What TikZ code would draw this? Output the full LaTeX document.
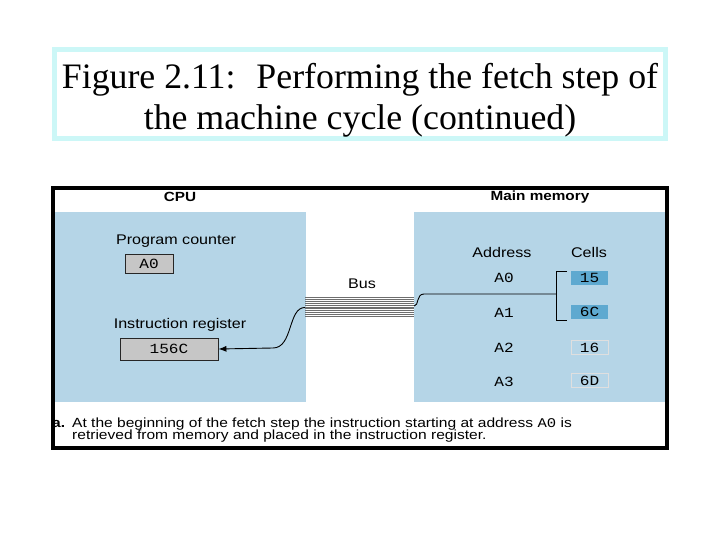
\documentclass[tikz,border=0pt]{standalone}
\usepackage{fontspec}
\setmainfont{Liberation Serif}
\setsansfont{Liberation Sans}
\setmonofont{Liberation Mono}
\usetikzlibrary{arrows.meta}
\definecolor{panel}{HTML}{B5D5E7}
\definecolor{cellhi}{HTML}{5EA9D0}
\definecolor{regfill}{HTML}{C6C6C6}
\definecolor{titlebd}{HTML}{CCF7F7}
\definecolor{busgray}{HTML}{6E6E6E}
\newcommand{\wtxt}[1]{\scalebox{1.15}[1]{#1}}
\newcommand{\ctxt}[1]{\scalebox{1.17}[1]{#1}}
\begin{document}
\begin{tikzpicture}[x=1pt,y=-1pt,
  lbl/.style={font=\sffamily\fontsize{14}{15}\selectfont, inner sep=0},
  head/.style={font=\sffamily\bfseries\fontsize{13.3}{14}\selectfont, inner sep=0},
  mono/.style={font=\ttfamily\fontsize{14}{15}\selectfont, inner sep=0},
  reg/.style={draw=black!85, fill=regfill, line width=0.9pt, inner sep=0, mono},
  cellbox/.style={inner sep=0, mono, minimum width=37pt, minimum height=14pt},
  capt/.style={font=\sffamily\fontsize{13.3}{13}\selectfont, inner sep=0, anchor=base west},
]
\useasboundingbox (0,0) rectangle (720,540);
% title
\draw[titlebd, line width=5pt] (54.5,49.5) rectangle (665.5,138.5);
\node (title) [align=center, inner sep=0, font=\fontsize{35.8}{41}\selectfont, anchor=base] at (360,130)
  {Figure 2.11:~ Performing the fetch step of\\the machine cycle (continued)};
% diagram frame
\fill[white] (53,188) rectangle (667,448);
\fill[panel] (55,212) rectangle (306,402);
\fill[panel] (414,212) rectangle (665,402);
\node (cpu) [head] at (180,197) {\wtxt{CPU}};
\node (mem) [head] at (540,197) {\wtxt{Main memory}};
% CPU contents
\node (pclbl) [lbl] at (176,241) {\wtxt{Program counter}};
\node (pc) [reg, minimum width=48pt, minimum height=19pt] at (149,264) {\wtxt{A0}};
\node (irlbl) [lbl] at (180,325) {\wtxt{Instruction register}};
\node (ir) [reg, minimum width=98pt, minimum height=22pt] at (169,349) {\wtxt{156C}};
% bus
\node (buslbl) [lbl] at (362,284) {\wtxt{Bus}};
\foreach \k in {0,...,9} {
  \draw[busgray, line width=1.15pt] (305,297.5+2.1*\k) -- (414,297.5+2.1*\k);
}
\node (bus) [minimum width=109pt, minimum height=21pt, inner sep=0] at (359.5,307) {};
% memory contents
\node (addr) [lbl] at (502,252) {\wtxt{Address}};
\node (cells) [lbl] at (589,252) {\wtxt{Cells}};
\node (a0) [mono] at (504,278) {\wtxt{A0}};
\node (a1) [mono] at (504,313) {\wtxt{A1}};
\node (a2) [mono] at (504,348) {\wtxt{A2}};
\node (a3) [mono] at (504,382) {\wtxt{A3}};
\node (c0) [cellbox, fill=cellhi] at (589.5,278) {\wtxt{15}};
\node (c1) [cellbox, fill=cellhi] at (589.5,312) {\wtxt{6C}};
\node (c2) [cellbox, draw=white!75!gray, line width=0.8pt] at (589.5,347.5) {\wtxt{16}};
\node (c3) [cellbox, draw=white!75!gray, line width=0.8pt] at (589.5,380.5) {\wtxt{6D}};
\coordinate (brtop) at (556.5,271.5);
\coordinate (brbot) at (556.5,320);
\draw[line width=0.9pt] (567,271.5) -- (brtop) -- (brbot) -- (567,320);
% connectors
\draw[line width=0.9pt] (bus.east |- 0,306) .. controls (419,306) and (416,294) .. (424,294) -- (brtop |- 0,294);
\draw[line width=0.9pt, -{Latex[length=8pt,width=6pt]}] (bus.west |- 0,307.5)
  .. controls (288,307.5) and (293,348) .. (273,348) -- (ir.east);
% caption
\node (capa) [capt, font=\sffamily\bfseries\fontsize{13.3}{13}\selectfont] at (52,427) {\ctxt{a.}};
\node (cap1) [capt] at (72,427) {\ctxt{At the beginning of the fetch step the instruction starting at address {\ttfamily A0} is}};
\node (cap2) [capt] at (72,439) {\ctxt{retrieved from memory and placed in the instruction register.}};
% frame border drawn last
\draw[black, line width=4pt] (53,188) rectangle (667,448);
\end{tikzpicture}
\end{document}
